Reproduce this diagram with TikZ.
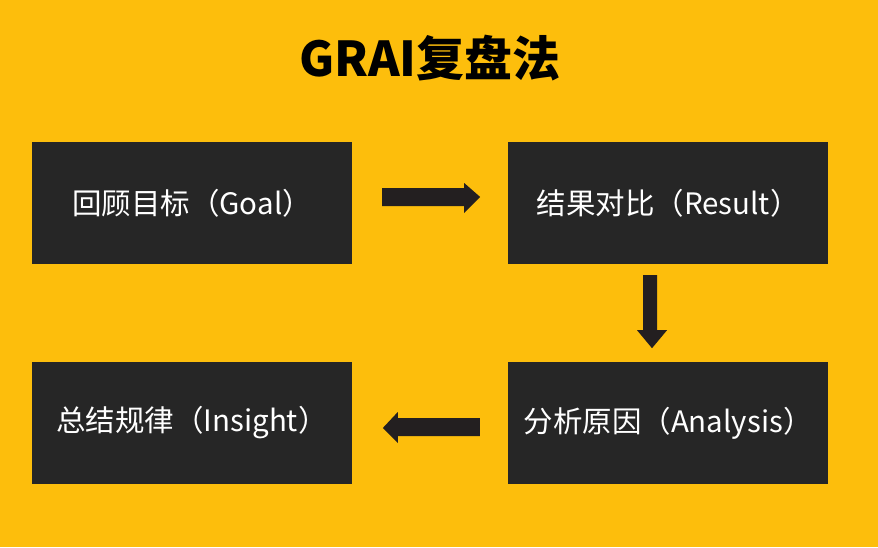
\documentclass[tikz,border=0pt]{standalone}
\usepackage{fontspec}
\usetikzlibrary{calc}
\setmainfont{Noto Sans CJK SC}
\newfontfamily\cjk{Noto Sans CJK SC}
\definecolor{bgyellow}{HTML}{FDBE0C}
\definecolor{boxdark}{HTML}{262626}
\definecolor{arrowdark}{HTML}{231F20}
\begin{document}
\begin{tikzpicture}[x=1pt,y=-1pt,
  stepbox/.style={fill=boxdark,draw=none,minimum width=320pt,minimum height=122pt,inner sep=0pt,text=white,font=\cjk\fontsize{29.5}{34}\selectfont},
  blockarrow/.style={fill=arrowdark,draw=none}]
\fill[bgyellow] (0,0) rectangle (878,547);
\useasboundingbox (0,0) rectangle (878,547);
\node[font=\cjk\bfseries\fontsize{48}{55}\selectfont,text=black] (title) at (430,58) {GRAI复盘法};
\node[stepbox] (goal) at (192,203) {\raisebox{2pt}{回顾目标（Goal）}};
\node[stepbox] (result) at (668,203) {\raisebox{2pt}{结果对比（Result）}};
\node[stepbox] (analysis) at (668,423) {\raisebox{2pt}{分析原因（Analysis）}};
\node[stepbox] (insight) at (192,423) {\raisebox{2pt}{总结规律（Insight）}};
% right arrow
\fill[blockarrow] ($(goal.east)+(30,-15)$) -- ++(82,0) -- ++(0,-5) -- ++(16,14) -- ++(-16,16) -- ++(0,-7) -- ++(-82,0) -- cycle;
% down arrow
\fill[blockarrow] ($(result.south)+(-25,11)$) -- ++(14,0) -- ++(0,55) -- ++(10,0) -- ++(-15,18) -- ++(-15,-18) -- ++(6,0) -- cycle;
% left arrow
\fill[blockarrow] ($(analysis.west)+(-28,-5)$) -- ++(-82,0) -- ++(0,-6) -- ++(-15,16) -- ++(15,15) -- ++(0,-7) -- ++(82,0) -- cycle;
\end{tikzpicture}
\end{document}
